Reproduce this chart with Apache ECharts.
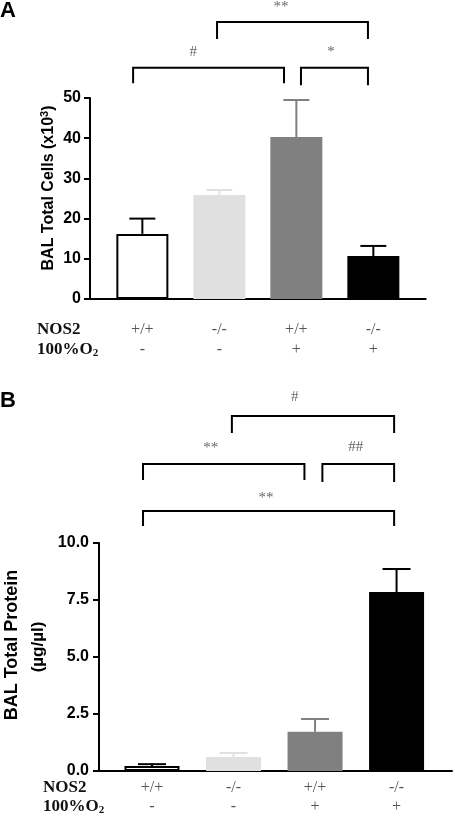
<!DOCTYPE html>
<html><head><meta charset="utf-8">
<script src="https://cdn.jsdelivr.net/npm/echarts@6/dist/echarts.min.js"></script>
<style>html,body{margin:0;padding:0;background:#fff}#c{width:455px;height:817px}</style>
</head><body><div id="c"></div>
<script>
// ---- data ----
var nos2 = ['+/+', '-/-', '+/+', '-/-'];
var oxygen = ['-', '-', '+', '+'];
var cellsMean = [16.2, 25.9, 40.3, 10.7];
var cellsSEM = [3.8, 1.2, 9.2, 2.5];
var proteinMean = [0.22, 0.61, 1.72, 7.85];
var proteinSEM = [0.08, 0.18, 0.56, 1.01];
var cellTicks = [0, 10, 20, 30, 40, 50];
var proteinTicks = ['0.0', '2.5', '5.0', '7.5', '10.0'];
var barColors = ['#ffffff', '#e0e0e0', '#808080', '#000000'];
var errColors = ['#000000', '#e0e0e0', '#808080', '#000000'];
// significance brackets: [x1, x2, yTop, yEnd1, yEnd2, label, labelX, labelY]
var bracketsA = [
  [0.97, 2.93, 68.9, 64.7, 64.7, '**', 1.80, 72.7],
  [-0.12, 1.84, 57.5, 53.7, 53.7, '#', 0.66, 61.4],
  [2.06, 2.93, 57.5, 53.2, 53.2, '*', 2.45, 61.5]
];
var bracketsB = [
  [0.98, 2.97, 15.57, 14.82, 14.82, '#', 1.75, 16.4],
  [-0.11, 1.87, 13.46, 12.76, 12.76, '**', 0.72, 14.15],
  [2.09, 2.97, 13.46, 12.68, 12.68, '##', 2.50, 14.2],
  [-0.11, 2.97, 11.40, 10.75, 10.75, '**', 1.40, 11.95]
];

var chart = echarts.init(document.getElementById('c'), null, {renderer: 'canvas'});

function barData(vals) {
  return vals.map(function (v, i) {
    return {value: [i, v], itemStyle: {color: barColors[i], borderColor: i === 0 ? '#000' : barColors[i], borderWidth: i === 0 ? 2 : 0}};
  });
}
function errData(vals, sems) {
  return vals.map(function (v, i) { return [i, v, v + sems[i], i]; });
}
function errRender(halfW) {
  return function (params, api) {
    var x = api.value(0), v = api.value(1), e = api.value(2), idx = api.value(3);
    var p0 = api.coord([x, v]), p1 = api.coord([x, e]);
    var st = {stroke: errColors[idx], lineWidth: 2};
    return {type: 'group', children: [
      {type: 'line', shape: {x1: p0[0], y1: p0[1], x2: p1[0], y2: p1[1]}, style: st},
      {type: 'line', shape: {x1: p1[0] - halfW, y1: p1[1], x2: p1[0] + halfW, y2: p1[1]}, style: st}
    ]};
  };
}
var axisLineStyle = {color: '#000', width: 2};
var tickLabelFont = {color: '#000', fontFamily: 'Liberation Sans, Arial', fontWeight: 'bold'};

chart.setOption({
  animation: false,
  backgroundColor: '#fff',
  grid: [
    {left: 90, top: 98, width: 335.7, height: 201},
    {left: 99, top: 543, width: 353, height: 228}
  ],
  xAxis: [
    {gridIndex: 0, type: 'value', min: -0.68, max: 3.68, axisLine: {show: true, onZero: false, lineStyle: axisLineStyle}, axisTick: {show: false}, axisLabel: {show: false}, splitLine: {show: false}},
    {gridIndex: 1, type: 'value', min: -0.65, max: 3.68, axisLine: {show: true, onZero: false, lineStyle: axisLineStyle}, axisTick: {show: false}, axisLabel: {show: false}, splitLine: {show: false}}
  ],
  yAxis: [
    {gridIndex: 0, type: 'value', min: cellTicks[0], max: cellTicks[cellTicks.length - 1], interval: 10,
     axisLine: {show: true, onZero: false, lineStyle: axisLineStyle}, axisTick: {show: true, length: 6, lineStyle: {color: '#000', width: 2}},
     axisLabel: Object.assign({fontSize: 16, margin: 9}, tickLabelFont), splitLine: {show: false}},
    {gridIndex: 1, type: 'value', min: 0, max: 10, interval: 2.5,
     axisLine: {show: true, onZero: false, lineStyle: axisLineStyle}, axisTick: {show: true, length: 6, lineStyle: {color: '#000', width: 2}},
     axisLabel: Object.assign({fontSize: 16, margin: 10, formatter: function (v) { return proteinTicks[Math.round(v / 2.5)]; }}, tickLabelFont), splitLine: {show: false}}
  ],
  series: [
    {type: 'bar', xAxisIndex: 0, yAxisIndex: 0, barWidth: 52, data: barData(cellsMean)},
    {type: 'custom', xAxisIndex: 0, yAxisIndex: 0, renderItem: errRender(13), data: errData(cellsMean, cellsSEM), z: 3},
    {type: 'bar', xAxisIndex: 1, yAxisIndex: 1, barWidth: 55, data: barData(proteinMean)},
    {type: 'custom', xAxisIndex: 1, yAxisIndex: 1, renderItem: errRender(14), data: errData(proteinMean, proteinSEM), z: 3}
  ]
});

// annotations
var g = [];
function px(grid, x, y) { return chart.convertToPixel({gridIndex: grid}, [x, y]); }
function addBrackets(grid, list) {
  list.forEach(function (b) {
    var a = px(grid, b[0], b[3]), t1 = px(grid, b[0], b[2]), t2 = px(grid, b[1], b[2]), c = px(grid, b[1], b[4]);
    g.push({type: 'polyline', shape: {points: [a, t1, t2, c]}, style: {stroke: '#000', lineWidth: 2, fill: null}, silent: true});
    var lp = px(grid, b[6], b[7]);
    g.push({type: 'text', x: lp[0], y: lp[1], style: {text: b[5], font: '15px "Liberation Serif", "Times New Roman", serif', fill: '#666', align: 'center', verticalAlign: 'middle'}});
  });
}
addBrackets(0, bracketsA);
addBrackets(1, bracketsB);

function addTable(grid, y1, y2, labelX) {
  g.push({type: 'text', x: labelX, y: y1, style: {text: 'NOS2', font: 'bold 17px "Liberation Serif", "Times New Roman", serif', fill: '#111', align: 'left', verticalAlign: 'middle'}});
  g.push({type: 'text', x: labelX, y: y2, style: {text: '100%O{s|2}', font: 'bold 17px "Liberation Serif", "Times New Roman", serif', fill: '#111', align: 'left', verticalAlign: 'middle',
    rich: {s: {font: 'bold 11px "Liberation Serif", serif', fill: '#111', verticalAlign: 'bottom', padding: [6, 0, 0, 0]}}}});
  for (var i = 0; i < nos2.length; i++) {
    var p = px(grid, i, 0);
    g.push({type: 'text', x: p[0], y: y1, style: {text: nos2[i], font: '16px "Liberation Serif", "Times New Roman", serif', fill: '#555', align: 'center', verticalAlign: 'middle'}});
    g.push({type: 'text', x: p[0], y: y2, style: {text: oxygen[i], font: '16px "Liberation Serif", "Times New Roman", serif', fill: '#555', align: 'center', verticalAlign: 'middle'}});
  }
}
addTable(0, 330, 350, 37);
addTable(1, 788, 807, 43);

// panel letters
g.push({type: 'text', x: 0, y: 11, style: {text: 'A', font: 'bold 22px "Liberation Sans", Arial', fill: '#000', align: 'left', verticalAlign: 'middle'}});
g.push({type: 'text', x: 0, y: 401, style: {text: 'B', font: 'bold 22px "Liberation Sans", Arial', fill: '#000', align: 'left', verticalAlign: 'middle'}});

// y axis titles
g.push({type: 'text', x: 49, y: 188, rotation: Math.PI / 2, style: {text: 'BAL Total Cells (x10{sup|3})', font: 'bold 16px "Liberation Sans", Arial', fill: '#000', align: 'center', verticalAlign: 'middle',
  rich: {sup: {font: 'bold 11px "Liberation Sans", Arial', fill: '#000', verticalAlign: 'top', padding: [0, 0, 9, 0]}}}});
g.push({type: 'text', x: 12, y: 645, rotation: Math.PI / 2, style: {text: 'BAL Total Protein', font: 'bold 18px "Liberation Sans", Arial', fill: '#000', align: 'center', verticalAlign: 'middle'}});
g.push({type: 'text', x: 38, y: 647, rotation: Math.PI / 2, style: {text: '(\u00b5g/\u00b5l)', font: 'bold 17px "Liberation Sans", Arial', fill: '#000', align: 'center', verticalAlign: 'middle'}});

chart.setOption({graphic: g});
</script></body></html>
